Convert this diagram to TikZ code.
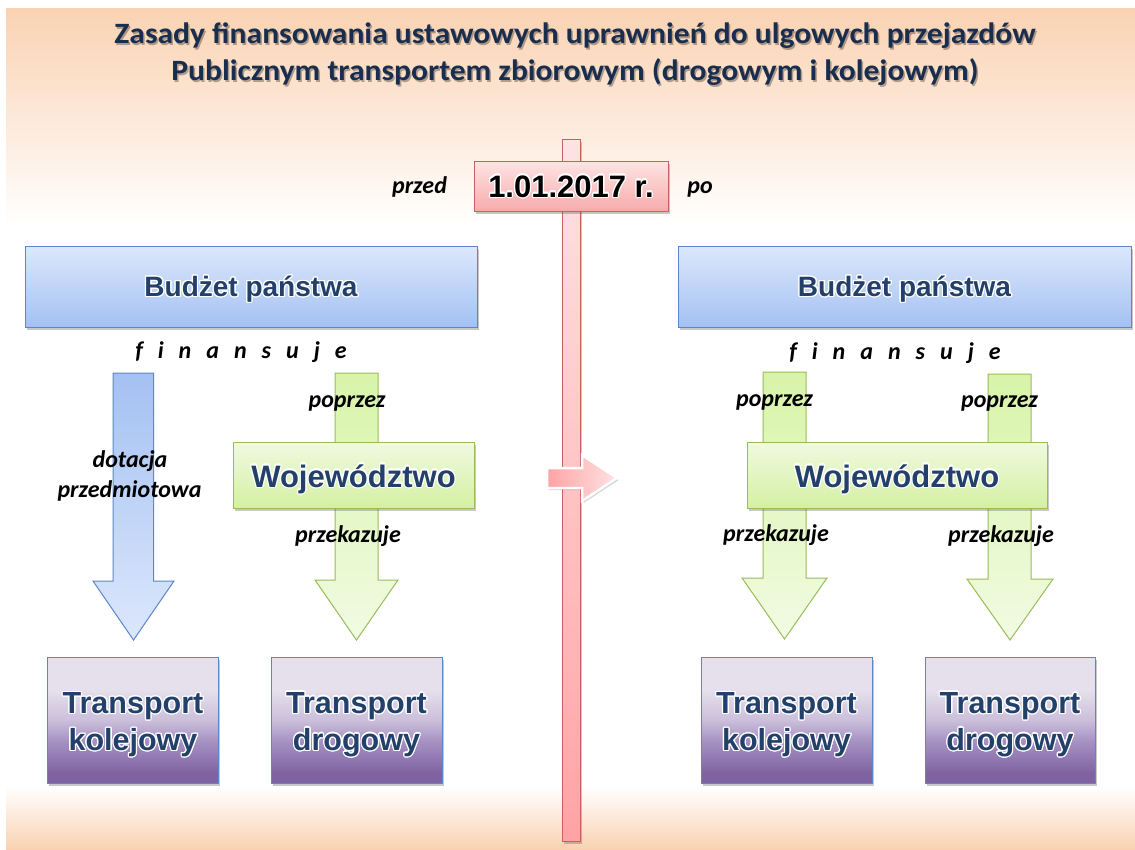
\documentclass[tikz,border=0pt]{standalone}
\usepackage{fontspec}
\setmainfont{Carlito}
\newfontfamily\arialf{Liberation Sans}
\usepackage[copies]{contour}
\contourlength{1.2pt}
\usetikzlibrary{shadows}
\definecolor{peach}{HTML}{FAD2B2}
\definecolor{titlec}{HTML}{192E4E}
\definecolor{navy}{HTML}{22406A}
\definecolor{blueT}{HTML}{DCE7FC}
\definecolor{blueBot}{HTML}{A4C1F3}
\definecolor{blueLine}{HTML}{5B87C9}
\definecolor{greenT}{HTML}{D8F4A8}
\definecolor{greenBot}{HTML}{F1FBE3}
\definecolor{greenLine}{HTML}{9BBB59}
\definecolor{wojT}{HTML}{F0FAE0}
\definecolor{wojBot}{HTML}{D4F0A3}
\definecolor{redLine}{HTML}{C9605C}
\definecolor{pinkT}{HTML}{FEE3E4}
\definecolor{pinkBot}{HTML}{FFA3A5}
\definecolor{dateT}{HTML}{FEE4E4}
\definecolor{dateBot}{HTML}{F8ABAB}
\definecolor{pB}{HTML}{7F63A1}
\definecolor{pM1}{HTML}{A893C4}
\definecolor{pM2}{HTML}{CBBFDB}
\definecolor{pL}{HTML}{E5E0EC}
\pgfdeclareverticalshading{purpshade}{100bp}{color(0bp)=(pB); color(29bp)=(pB); color(42bp)=(pM1); color(50bp)=(pM2); color(62bp)=(pL); color(100bp)=(pL)}
\tikzset{
  lbl/.style={font=\bfseries\itshape\fontsize{24}{28}\selectfont, inner sep=0pt, anchor=base, text=black},
  shad/.style={drop shadow={shadow xshift=1.5pt, shadow yshift=-2.5pt, opacity=0.3, fill=black!70}},
  bluebox/.style={draw=blueLine, line width=1pt, top color=blueT, bottom color=blueBot, shad,
    minimum width=452pt, minimum height=81pt, inner sep=0pt, text=navy,
    text height=19.5pt, text depth=0pt,
    font=\arialf\bfseries\fontsize{28}{32}\selectfont},
  wojbox/.style={draw=greenLine, line width=1pt, top color=wojT, bottom color=wojBot, shad,
    minimum height=66pt, inner sep=0pt, text=navy, text height=24pt, text depth=0pt,
    font=\arialf\bfseries\fontsize{31}{35}\selectfont},
  trbox/.style={draw=blueLine, line width=1pt, shading=purpshade, shad,
    minimum width=171pt, minimum height=126pt, inner sep=0pt},
  trtext/.style={inner sep=0pt, text=navy, align=center,
    font=\arialf\bfseries\fontsize{30.5}{37}\selectfont},
  titletext/.style={anchor=base, font=\bfseries\fontsize{29.5}{34}\selectfont},
  bluearrow/.style={draw=blueLine, line width=1pt, top color=blueBot, bottom color=blueT},
  greenarrow/.style={draw=greenLine, line width=1pt, top color=greenT, bottom color=greenBot},
}
\begin{document}
\begin{tikzpicture}[x=1pt,y=-1pt]
\useasboundingbox (0,0) rectangle (1135,849);
\fill[white] (0,0) rectangle (1135,849);
% background bands
\shade[top color=peach, bottom color=white] (6,8) rectangle (1135,226);
\shade[top color=white, bottom color=peach] (6,786) rectangle (1135,849);
% title (shadow, then text)
\node[titletext, text=black, opacity=0.3] (t1s) at (576.5,45) {\scalebox{1.07}[1]{Zasady finansowania ustawowych uprawnień do ulgowych przejazdów}};
\node[titletext, text=black, opacity=0.3] (t2s) at (576.5,82) {\scalebox{1.07}[1]{Publicznym transportem zbiorowym (drogowym i kolejowym)}};
\node[titletext, text=titlec] (t1) at (575,43) {\scalebox{1.07}[1]{Zasady finansowania ustawowych uprawnień do ulgowych przejazdów}};
\node[titletext, text=titlec] (t2) at (575,80) {\scalebox{1.07}[1]{Publicznym transportem zbiorowym (drogowym i kolejowym)}};
% time bar
\draw[redLine, line width=0.8pt, top color=pinkT, bottom color=pinkBot, shad] (562,139) rectangle (580,841);
% date box
\node[draw=redLine, line width=1pt, top color=dateT, bottom color=dateBot, shad,
  minimum width=194pt, minimum height=50pt, inner sep=0pt, text height=22pt, text depth=0pt,
  font=\arialf\bfseries\fontsize{31}{35}\selectfont, text=black] (date) at (571,186) {\contour{white}{1.01.2017 r.}};
\node[lbl] (przed) at (419.5,193) {przed};
\node[lbl] (po) at (700,193) {po};
% pink arrow
\draw[white, line width=2.5pt, line join=miter, left color=pinkBot, right color=pinkT,
  drop shadow={shadow xshift=1.5pt, shadow yshift=-2pt, opacity=0.25, fill=black!70}]
  (547,468) -- (582,468) -- (582,455) -- (617,478) -- (582,501) -- (582,488) -- (547,488) -- cycle;
% budget boxes
\node[bluebox] (bL) at (251,286.5) {\contour{white}{Budżet państwa}};
\node[bluebox, minimum width=453pt] (bR) at (904.5,286.5) {\contour{white}{Budżet państwa}};
% block arrows left
\draw[bluearrow] (113,373) -- (153.5,373) -- (153.5,581) -- (174,581) -- (133.5,640) -- (93,581) -- (113,581) -- cycle;
\draw[greenarrow] (335,373) -- (378,373) -- (378,580) -- (398,580) -- (356.5,640) -- (315,580) -- (335,580) -- cycle;
% block arrows right
\draw[greenarrow] (763,372) -- (806,372) -- (806,578) -- (827,578) -- (784.5,639) -- (742,578) -- (763,578) -- cycle;
\draw[greenarrow] (988,374) -- (1031,374) -- (1031,579) -- (1053,579) -- (1010,640) -- (967,579) -- (988,579) -- cycle;
% wojewodztwo
\node[wojbox, minimum width=241pt] (wL) at (353.5,475) {\contour{white}{Województwo}};
\node[wojbox, minimum width=300pt] (wR) at (897,475) {\contour{white}{Województwo}};
% transport boxes
\node[trbox] (tkL) at (133,720) {};
\node[trbox] (tdL) at (356.5,720) {};
\node[trbox] (tkR) at (786.5,720) {};
\node[trbox, minimum width=170pt] (tdR) at (1010,720) {};
\node[trtext] (tkLt) at ([yshift=-5pt]tkL.center) {\contour{white}{Transport}\\\contour{white}{kolejowy}};
\node[trtext] (tdLt) at ([yshift=-5pt]tdL.center) {\contour{white}{Transport}\\\contour{white}{drogowy}};
\node[trtext] (tkRt) at ([yshift=-5pt]tkR.center) {\contour{white}{Transport}\\\contour{white}{kolejowy}};
\node[trtext] (tdRt) at ([yshift=-5pt]tdR.center) {\contour{white}{Transport}\\\contour{white}{drogowy}};
% labels
\node[lbl] (finL) at (241,358) {\spaceskip=15pt f i n a n s u j e};
\node[lbl] (finR) at (895,359) {\spaceskip=15pt f i n a n s u j e};
\node[lbl] (popL) at (347,407) {poprzez};
\node[lbl] (popR1) at (774.5,406) {poprzez};
\node[lbl] (popR2) at (999.5,407) {poprzez};
\node[lbl] (dot1) at (130,467) {dotacja};
\node[lbl] (dot2) at (129.5,497) {przedmiotowa};
\node[lbl] (przL) at (348,542) {przekazuje};
\node[lbl] (przR1) at (776,541) {przekazuje};
\node[lbl] (przR2) at (1001,542) {przekazuje};
\end{tikzpicture}
\end{document}
